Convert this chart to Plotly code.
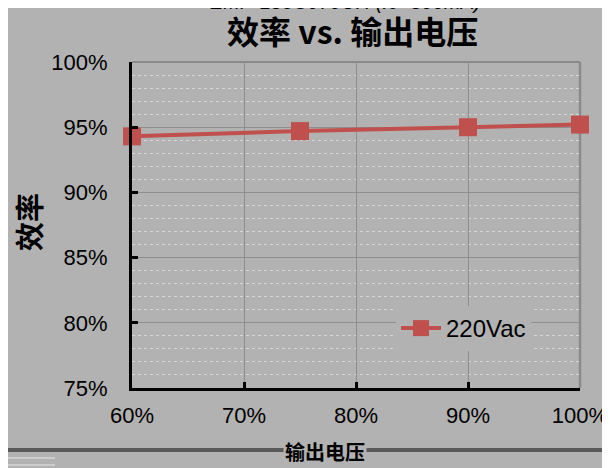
import plotly.graph_objects as go

# Data
load_pct = [60, 75, 90, 100]            # 输出电压 (%)
eff_220vac = [94.3, 94.7, 95.0, 95.2]    # 效率 (%)
series_name = "220Vac"
x_ticks = [60, 70, 80, 90, 100]
x_tick_text = ["60%", "70%", "80%", "90%", "100%"]
y_ticks = [75, 80, 85, 90, 95, 100]
y_tick_text = ["75%", "80%", "85%", "90%", "95%", "100%"]

OFF = 8  # page body margin
W, H = 602, 460
# plot area in screen px: x 132..580, y 62..388
L, R, T, B = 132 - OFF, W - (580 - OFF), 62 - OFF, H - (388 - OFF)
PW, PH = W - L - R, H - T - B

def px_x(sx):
    return (sx - OFF - L) / PW

def px_y(sy):
    return (H - B - (sy - OFF)) / PH

BG = "#b2b2b2"
RED = "#c0504d"
FONT = "Liberation Sans, Arial, sans-serif"
CJK = "Noto Sans CJK SC"

fig = go.Figure()
fig.add_trace(go.Scatter(
    x=load_pct, y=eff_220vac, name=series_name, mode="lines+markers",
    line=dict(color=RED, width=4),
    marker=dict(symbol="square", size=18, color=RED, line=dict(width=0)),
    cliponaxis=False,
))

fig.update_layout(
    width=W, height=H,
    margin=dict(l=L, r=R, t=T, b=B, pad=0, autoexpand=False),
    paper_bgcolor=BG, plot_bgcolor=BG,
    font=dict(family=FONT, size=22, color="#000"),
    showlegend=True,
    legend=dict(x=px_x(396), y=px_y(306), xanchor="left", yanchor="top",
                bgcolor=BG, font=dict(size=24, family=FONT),
                itemwidth=40),
    xaxis=dict(range=[60, 100], tickvals=x_ticks, ticktext=x_tick_text,
               showgrid=True, gridcolor="#8e8e8e", gridwidth=1,
               showline=True, linecolor="#000", linewidth=3,
               ticks="inside", ticklen=6, tickwidth=3, tickcolor="#000",
               zeroline=False, tickfont=dict(size=22, family=FONT),
               ticklabelstandoff=6, automargin=False),
    yaxis=dict(range=[75, 100], tickvals=y_ticks, ticktext=y_tick_text,
               showgrid=True, gridcolor="#8e8e8e", gridwidth=1,
               minor=dict(dtick=1, showgrid=True, gridcolor="#d6d6d6",
                          griddash="dot", gridwidth=1, ticks=""),
               showline=True, linecolor="#000", linewidth=3,
               ticks="inside", ticklen=6, tickwidth=3, tickcolor="#000",
               zeroline=False, tickfont=dict(size=22, family=FONT),
               ticklabelstandoff=17, automargin=False),
)

shapes = [
    # plot area top and right border
    dict(type="line", xref="paper", yref="paper", x0=0, x1=1, y0=1, y1=1,
         line=dict(color="#8a8a8a", width=2), layer="below"),
    dict(type="line", xref="paper", yref="paper", x0=1, x1=1, y0=0, y1=1,
         line=dict(color="#8a8a8a", width=2.5), layer="below"),
    # bottom dark stripe
    dict(type="line", xref="paper", yref="paper", x0=px_x(0), x1=px_x(612),
         y0=px_y(450), y1=px_y(450), line=dict(color="#5a5a5a", width=4)),
    dict(type="line", xref="paper", yref="paper", x0=px_x(0), x1=px_x(55),
         y0=px_y(458), y1=px_y(458), line=dict(color="#e8e8e8", width=1)),
    dict(type="line", xref="paper", yref="paper", x0=px_x(0), x1=px_x(55),
         y0=px_y(465), y1=px_y(465), line=dict(color="#e8e8e8", width=1)),
]
fig.update_layout(shapes=shapes)

fig.add_annotation(text="<i>EMP-185C070UH (Io=800mA)</i>", xref="paper", yref="paper",
                   x=px_x(345), y=px_y(15), xanchor="center", yanchor="bottom",
                   showarrow=False, font=dict(size=20, family=FONT, color="#000"))
fig.add_annotation(text="<b>效率 vs. 输出电压</b>", xref="paper", yref="paper",
                   x=px_x(352), y=px_y(30), xanchor="center", yanchor="middle",
                   showarrow=False, font=dict(size=32, family=CJK, color="#000"))
fig.add_annotation(text="<b>效率</b>", xref="paper", yref="paper",
                   x=px_x(28), y=px_y(222), xanchor="center", yanchor="middle",
                   textangle=-90, showarrow=False,
                   font=dict(size=29, family=CJK, color="#000"))
fig.add_annotation(text="<b>输出电压</b>", xref="paper", yref="paper",
                   x=px_x(325), y=px_y(451), xanchor="center", yanchor="middle",
                   showarrow=False, bgcolor=BG,
                   font=dict(size=20, family=CJK, color="#000"))

fig.write_html("out.html")
